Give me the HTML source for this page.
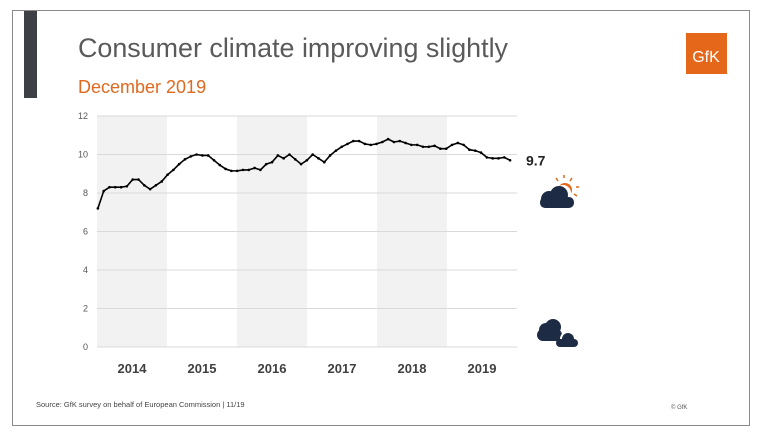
<!DOCTYPE html>
<html><head><meta charset="utf-8"><style>
body{margin:0;background:#fff;width:757px;height:435px;overflow:hidden;font-family:"Liberation Sans",sans-serif;}
</style></head><body>
<svg width="757" height="435">
<rect x="12.5" y="10.5" width="737" height="415" fill="#fff" stroke="#8a8a8a" stroke-width="1"/>
<rect x="24" y="11" width="13" height="87" fill="#3d4145"/>
<text x="78" y="57" font-size="27" fill="#5a5a5a" textLength="430" lengthAdjust="spacingAndGlyphs">Consumer climate improving slightly</text>
<text x="78" y="93" font-size="18" fill="#e0691f">December 2019</text>
<g>
<rect x="686" y="33" width="41" height="41" fill="#e5671a"/>
<text x="706" y="62" font-size="16" fill="#fff" text-anchor="middle">GfK</text>
</g>
<g id="chart"></g>
<g>
<circle cx="565" cy="190" r="7" fill="#e5671a"/>
<g stroke="#e5671a" stroke-width="1.5"><line x1="564" y1="175" x2="564" y2="178"/><line x1="556" y1="178" x2="558" y2="181"/><line x1="572" y1="178" x2="570" y2="181"/><line x1="576" y1="187" x2="579" y2="187"/><line x1="574" y1="194" x2="577" y2="196"/></g>
<circle cx="563" cy="193" r="8" fill="#fff"/>
<circle cx="549" cy="199" r="8" fill="#1e2b45"/><circle cx="559" cy="195" r="9" fill="#1e2b45"/><rect x="540" y="197" width="34" height="11" rx="5" fill="#1e2b45"/>
</g>
<g>
<circle cx="546" cy="330" r="7" fill="#1e2b45"/><circle cx="553" cy="327" r="8" fill="#1e2b45"/><rect x="537" y="329" width="25" height="12" rx="6" fill="#1e2b45"/>
<circle cx="568" cy="339" r="8" fill="#fff"/><rect x="554" y="341" width="26" height="8" fill="#fff"/>
<circle cx="568" cy="339" r="6" fill="#1e2b45"/><rect x="556" y="339" width="22" height="8" rx="4" fill="#1e2b45"/>
</g>
<text x="36" y="407" font-size="7.5" fill="#444">Source: GfK survey on behalf of European Commission | 11/19</text>
<text x="671" y="409" font-size="6" fill="#555">© GfK</text>
</svg>
<script>
const years=["2014","2015","2016","2017","2018","2019"];
const yTicks=[0,2,4,6,8,10,12];
const values=[7.2,8.1,8.3,8.3,8.3,8.35,8.7,8.7,8.4,8.2,8.4,8.6,
8.95,9.2,9.5,9.75,9.9,10.0,9.95,9.95,9.7,9.45,9.25,9.15,
9.15,9.2,9.2,9.3,9.2,9.5,9.6,9.95,9.8,10.0,9.75,9.5,
9.7,10.0,9.8,9.6,9.95,10.2,10.4,10.55,10.7,10.7,10.55,10.5,
10.55,10.65,10.8,10.65,10.7,10.6,10.5,10.5,10.4,10.4,10.45,10.3,
10.3,10.5,10.6,10.5,10.25,10.2,10.1,9.85,9.8,9.8,9.85,9.7];
const lastLabel="9.7";
const ns="http://www.w3.org/2000/svg",g=document.getElementById('chart');
const X0=97,X1=517,Y0=347,Y1=116;
const yS=v=>Y0-(v-0)/(12)*(Y0-Y1);
const yw=(X1-X0)/years.length;
const xS=i=>X0+(i+0.15)*(X1-X0-2)/(values.length);
function mk(t,a){const e=document.createElementNS(ns,t);for(const k in a)e.setAttribute(k,a[k]);g.appendChild(e);return e;}
years.forEach((y,i)=>{
 if(i%2==0){const r=mk('rect',{x:X0+i*yw,y:Y1,width:yw,height:Y0-Y1,fill:'#f2f2f2'});
 
 }
 const t=mk('text',{x:X0+(i+0.5)*yw,y:373,'font-size':13,'font-weight':'bold',fill:'#404040','text-anchor':'middle'});t.textContent=y;
 
 
});
yTicks.forEach(v=>{
 const l=mk('line',{x1:X0,x2:X1,y1:yS(v),y2:yS(v),stroke:'#d9d9d9','stroke-width':1});
 
 
 const t=mk('text',{x:88,y:yS(v)+3,'font-size':9,fill:'#555','text-anchor':'end'});t.textContent=v;
 
 
});
const p=mk('polyline',{points:values.map((v,i)=>xS(i)+','+yS(v)).join(' '),fill:'none',stroke:'#000','stroke-width':1.6,'stroke-linejoin':'round'});


values.forEach((v,i)=>{const c=mk('circle',{cx:xS(i),cy:yS(v),r:1.3,fill:'#000'});
 
 });
const lt=mk('text',{x:526,y:yS(values[values.length-1])+5,'font-size':14,'font-weight':'bold',fill:'#222'});lt.textContent=lastLabel;


</script>
</body></html>
